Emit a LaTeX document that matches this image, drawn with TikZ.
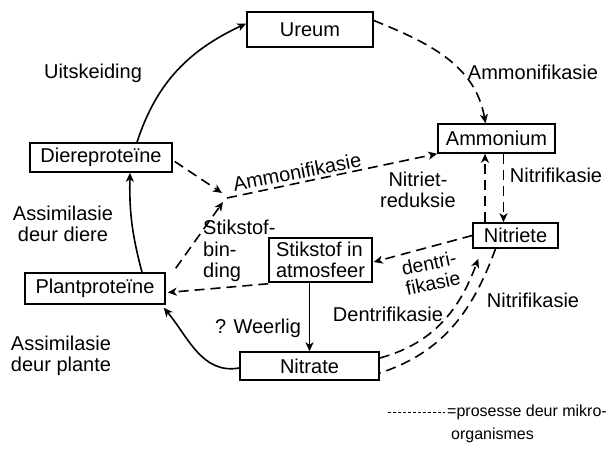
\documentclass[tikz,border=0pt]{standalone}
\usepackage{fontspec}
\setmainfont{Liberation Sans}
\usetikzlibrary{arrows.meta}
\begin{document}
\begin{tikzpicture}[x=1pt,y=-1pt,
  every node/.style={font=\fontsize{20}{21.5}\selectfont},
  box/.style={draw,line width=1.5pt,inner sep=0pt},
  lbl/.style={inner sep=0pt,align=center},
  conn/.style={line width=1.6pt},
  micro/.style={conn,dash pattern=on 10pt off 6pt},
  arr/.style={-{Stealth[length=9pt,width=8pt,inset=2.5pt]}}]
\useasboundingbox (0,0) rectangle (611,462);
% boxes
\node[box,minimum width=126pt,minimum height=35pt] (ur) at (310,29.5) {Ureum};
\node[box,minimum width=117pt,minimum height=29pt] (am) at (496.5,138.5) {Ammonium};
\node[box,minimum width=85pt,minimum height=25pt] (nr) at (515.5,235.5) {Nitriete};
\node[box,minimum width=142pt,minimum height=29pt] (dp) at (101,157.5) {Diereproteïne};
\node[box,minimum width=140pt,minimum height=31pt] (pp) at (95,288.5) {Plantproteïne};
\node[box,minimum width=103pt,minimum height=44pt,align=left] (st) at (320.5,260) {Stikstof in\\atmosfeer};
\node[box,minimum width=139pt,minimum height=28pt] (nt) at (309.5,366) {Nitrate};
\coordinate (hub) at (225,198);
% labels
\node[lbl] (uit) at (93,73) {Uitskeiding};
\node[lbl] (amm1) at (533,72) {Ammonifikasie};
\node[lbl,rotate=11] (amm2) at (297,172) {Ammonifikasie};
\node[lbl] (asd) at (63,224) {Assimilasie\\deur diere};
\node[lbl,align=left,anchor=west] (sb) at (203,251) {Stikstof-\\bin-\\ding};
\node[lbl] (asp) at (61,356) {Assimilasie\\deur plante};
\node[lbl] (wl) at (258,328) {? Weerlig};
\node[lbl] (nred) at (418,190) {Nitriet-\\reduksie};
\node[lbl] (nit1) at (556,175) {Nitrifikasie};
\node[lbl,rotate=12,font=\fontsize{19.5}{20}\selectfont] (den1) at (431,273) {dentri-\\fikasie};
\node[lbl] (nit2) at (533,300) {Nitrifikasie};
\node[lbl] (den2) at (388,314) {Dentrifikasie};
% connectors
\draw[conn,arr] ([xshift=36pt]dp.north) to[out=72,in=205] ([yshift=6pt]ur.west);
\draw[micro,arr] ([yshift=9pt]ur.east) to[out=-22,in=100] ([xshift=-11pt]am.north);
\draw[micro,arr] ([xshift=2pt,yshift=-4pt]dp.east) -- ([xshift=-3pt,yshift=5pt]hub);
\draw[micro,arr] ([xshift=10pt,yshift=4pt]pp.north east) -- ([xshift=-2pt,yshift=-4pt]hub);
\draw[micro,arr] ([xshift=2pt]hub) -- (am.south west);
\draw[conn,arr] ([xshift=47pt]pp.north) to[bend left=8] ([xshift=29pt]dp.south);
\draw[conn,arr] ([yshift=-2pt]nt.west) to[out=190,in=-50] ([xshift=-2pt,yshift=-3pt]pp.south east);
\draw[micro,arr] ([yshift=-1pt]st.south west) -- ([xshift=2pt,yshift=-4pt]pp.east);
\draw[conn,arr] (st.south -| nt.north) -- (nt.north);
\draw[micro,arr] (nr.west) -- ([xshift=1pt,yshift=-2pt]st.east);
\draw[micro,arr] ([xshift=-30.5pt]nr.north) -- ([xshift=-11.5pt]am.south);
\draw[micro,arr] ([xshift=7pt]am.south) -- ([xshift=-12pt]nr.north);
\draw[micro,arr] ([yshift=8pt]nt.east) to[out=15,in=-110] ([xshift=6pt,yshift=-10pt]nr.south west);
\draw[micro] ([xshift=-20pt]nr.south) to[out=-110,in=18] ([yshift=-7pt]nt.east);
% legend
\coordinate (lgA) at (388,413);
\coordinate (lgB) at (445,413);
\draw[line width=1pt,dash pattern=on 3pt off 2pt] (lgA) -- (lgB);
\node[lbl,align=left,anchor=west,font=\fontsize{16}{23}\selectfont] (leg) at (447,424) {=prosesse deur mikro-\\\hspace*{4pt}organismes};
\end{tikzpicture}
\end{document}
